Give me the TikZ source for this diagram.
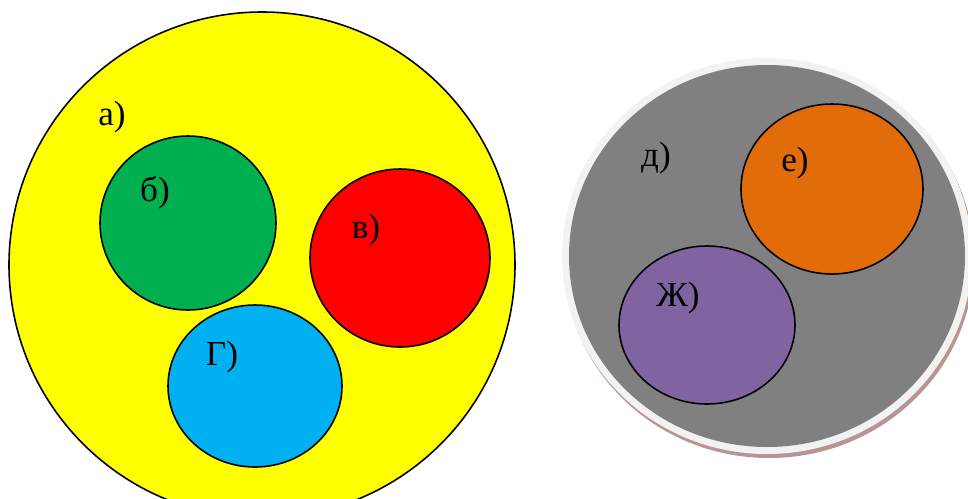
\documentclass[tikz,border=0pt]{standalone}
\usepackage{fontspec}
\setmainfont{Liberation Serif}
\usepackage{tikz,xcolor}
\usetikzlibrary{calc}

\definecolor{setyellow}{HTML}{FFFF00}
\definecolor{setgreen}{HTML}{00B050}
\definecolor{setred}{HTML}{FF0000}
\definecolor{setblue}{HTML}{00B0F0}
\definecolor{setgray}{HTML}{808080}
\definecolor{setorange}{HTML}{E36C0A}
\definecolor{setpurple}{HTML}{8064A2}
\definecolor{ringgray}{HTML}{F2F2F2}
\definecolor{shadowred}{HTML}{B89494}

\tikzset{
  setline/.style={black,line width=0.9pt},
  setlabel/.style={inner sep=0pt,font=\fontsize{20}{22}\selectfont}
}

\begin{document}
\begin{tikzpicture}[x=0.02cm,y=-0.02cm]
\useasboundingbox (0,0) rectangle (968,498);

% left set
\filldraw[setline,fill=setyellow] (262,265) circle (253);
\filldraw[setline,fill=setgreen] (188,223) ellipse (88 and 87);
\filldraw[setline,fill=setred] (400,258) ellipse (90 and 89);
\filldraw[setline,fill=setblue] (255,386) ellipse (87 and 81);

\node[setlabel] (a) at (112,117) {а)};
\node[setlabel] (b) at (155,193) {б)};
\node[setlabel] (v) at (366,230) {в)};
\node[setlabel] (g) at (222,357) {Г)};

% right set, with its rim and shadow
\fill[shadowred] (769,260) ellipse (205 and 198);
\fill[ringgray] (767,256) ellipse (205 and 198);
\fill[setgray] (767,256) ellipse (198 and 191);
\filldraw[setline,fill=setorange] (832,189) ellipse (91 and 85);
\filldraw[setline,fill=setpurple] (707,325) ellipse (88 and 79);

\node[setlabel] (d) at (656,158) {д)};
\node[setlabel] (e) at (795,163) {е)};
\node[setlabel] (zh) at (678,298) {Ж)};

%\draw[red] (0,0) rectangle (968,498);

\end{tikzpicture}
\end{document}
